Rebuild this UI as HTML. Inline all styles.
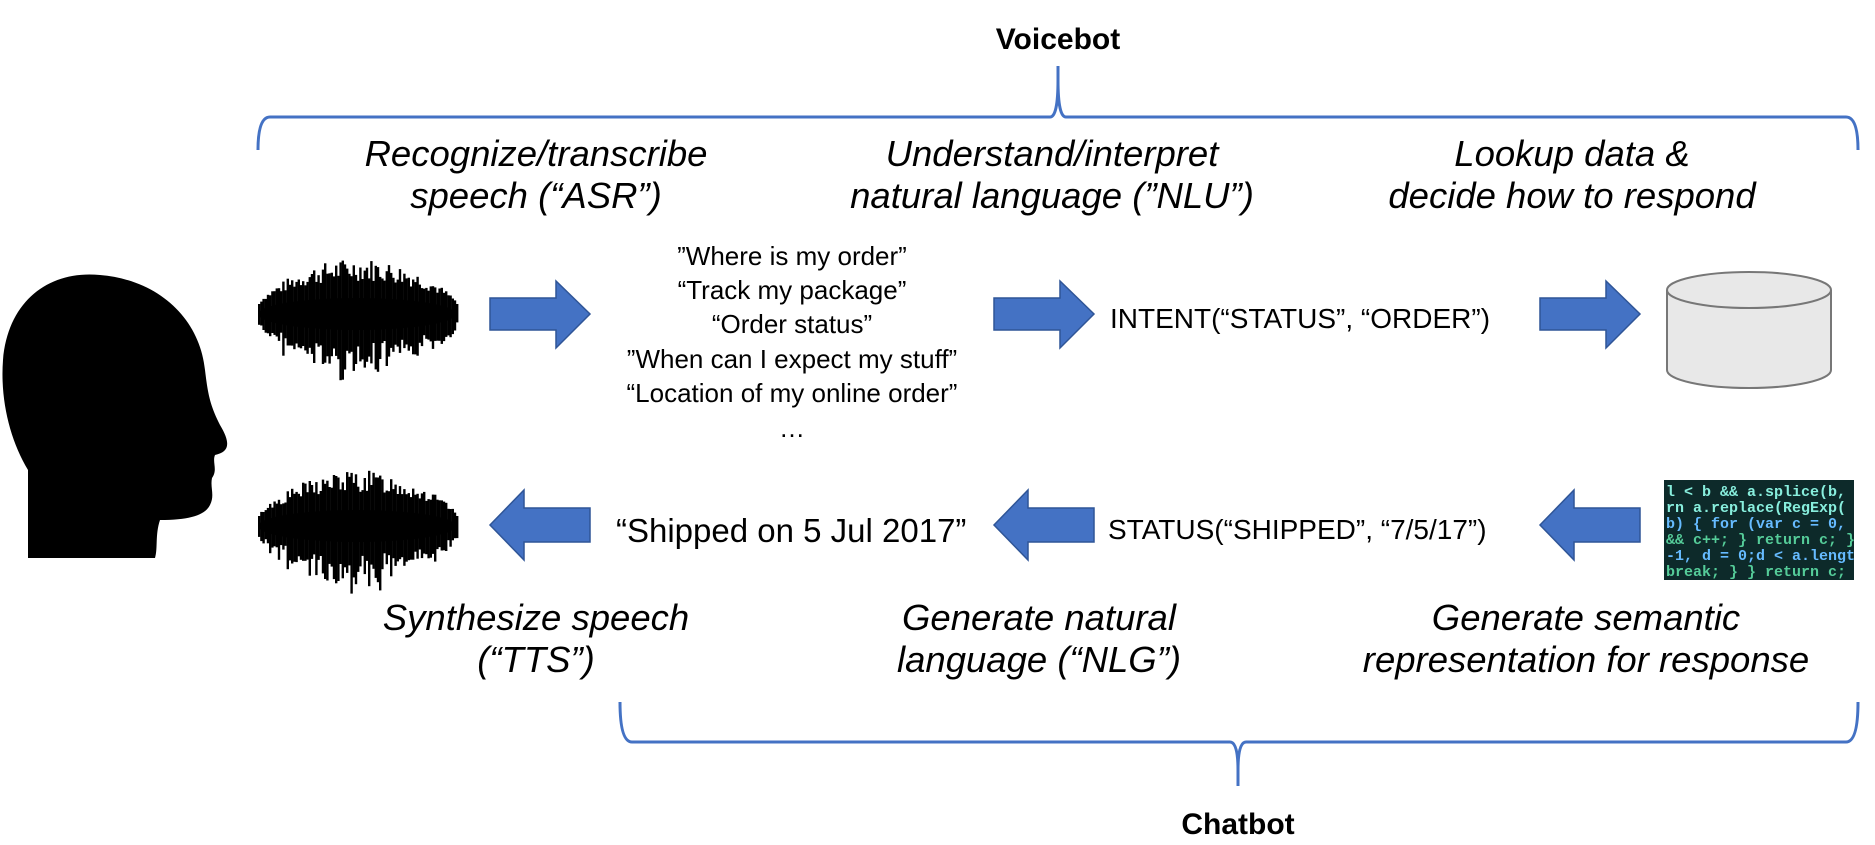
<!DOCTYPE html>
<html><head><meta charset="utf-8"><style>
html,body{margin:0;padding:0;background:#fff;}
svg{display:block;}
text{font-family:"Liberation Sans",sans-serif;fill:#000;}
.h{font-style:italic;font-size:36.5px;}
.q{font-size:26px;}
.m{font-size:28px;}
.c{font-family:"Liberation Mono",monospace;font-size:15px;font-weight:bold;}
</style></head><body>
<svg id="s" width="1875" height="845" viewBox="0 0 1875 845" xmlns="http://www.w3.org/2000/svg">
<defs><clipPath id="cp"><rect x="1664" y="480" width="190" height="100"/></clipPath></defs>
<g fill="none" stroke="#4472c4" stroke-width="3">
<path d="M258 150 Q258 117 270 117 L1050 117 Q1058 117 1058 80 L1058 66 M1058 80 Q1058 117 1066 117 L1846 117 Q1858 117 1858 150"/>
<path d="M620 702 Q620 742 632 742 L1230 742 Q1238 742 1238 770 L1238 786 M1238 770 Q1238 742 1246 742 L1846 742 Q1858 742 1858 702"/>
</g>
<text x="1058" y="49" font-size="30" font-weight="bold" text-anchor="middle">Voicebot</text>
<text x="1238" y="834" font-size="30" font-weight="bold" text-anchor="middle">Chatbot</text>
<g text-anchor="middle">
<text class="h" x="536" y="166">Recognize/transcribe</text>
<text class="h" x="536" y="208">speech (“ASR”)</text>
<text class="h" x="1052" y="166">Understand/interpret</text>
<text class="h" x="1052" y="208">natural language (”NLU”)</text>
<text class="h" x="1572" y="166">Lookup data &amp;</text>
<text class="h" x="1572" y="208">decide how to respond</text>
<text class="h" x="536" y="630">Synthesize speech</text>
<text class="h" x="536" y="672">(“TTS”)</text>
<text class="h" x="1039" y="630">Generate natural</text>
<text class="h" x="1039" y="672">language (“NLG”)</text>
<text class="h" x="1586" y="630">Generate semantic</text>
<text class="h" x="1586" y="672">representation for response</text>
</g>
<g text-anchor="middle">
<text class="q" x="792" y="265">”Where is my order”</text>
<text class="q" x="792" y="299">“Track my package”</text>
<text class="q" x="792" y="333">“Order status”</text>
<text class="q" x="792" y="368">”When can I expect my stuff”</text>
<text class="q" x="792" y="402">“Location of my online order”</text>
<text class="q" x="792" y="437">…</text>
</g>
<text class="m" x="1110" y="328">INTENT(“STATUS”, “ORDER”)</text>
<text class="m" x="1108" y="539">STATUS(“SHIPPED”, “7/5/17”)</text>
<text x="616" y="542" font-size="33">“Shipped on 5 Jul 2017”</text>
<g fill="#4472c4" stroke="#2f5597" stroke-width="1.5">
<path d="M490 298 L556 298 L556 281 L590 314 L556 348 L556 330 L490 330Z"/>
<path d="M994 298 L1060 298 L1060 281 L1094 314 L1060 348 L1060 330 L994 330Z"/>
<path d="M1540 298 L1606 298 L1606 281 L1640 314 L1606 348 L1606 330 L1540 330Z"/>
<path d="M590 508 L524 508 L524 490 L490 525 L524 560 L524 542 L590 542Z"/>
<path d="M1094 508 L1028 508 L1028 490 L994 525 L1028 560 L1028 542 L1094 542Z"/>
<path d="M1640 508 L1574 508 L1574 490 L1540 525 L1574 560 L1574 542 L1640 542Z"/>
</g>
<g stroke="#777" stroke-width="2" fill="#e8e8e8">
<path d="M1667 290 L1667 370 A82 18 0 0 0 1831 370 L1831 290"/>
<ellipse cx="1749" cy="290" rx="82" ry="18"/>
</g>
<rect x="1664" y="480" width="190" height="100" fill="#0d2a2a"/>
<g clip-path="url(#cp)">
<text class="c" x="1666" y="496" style="fill:#8ed">l &lt; b &amp;&amp; a.splice(b, 1);</text>
<text class="c" x="1666" y="512" style="fill:#8ed">rn a.replace(RegExp(</text>
<text class="c" x="1666" y="528" style="fill:#6bf">b) { for (var c = 0, d</text>
<text class="c" x="1666" y="544" style="fill:#5c9">&amp;&amp; c++; } return c; }</text>
<text class="c" x="1666" y="560" style="fill:#6bf">-1, d = 0;d &lt; a.length;</text>
<text class="c" x="1666" y="576" style="fill:#5c9">break; } } return c; }</text>
</g>
<path d="M28 558 L28 470 C10 440 0 400 3 360 C8 300 50 270 100 275 C160 280 200 320 205 370 C208 395 210 405 220 425 C232 445 228 452 215 455 C212 462 218 470 212 478 C210 488 215 495 210 505 C205 515 190 520 160 520 C155 535 158 548 155 558Z" fill="#000"/>
<g id="w1" fill="#000"></g>
<g id="w2" fill="#000"></g>
</svg>
<script>
function wave(id,cy){var g=document.getElementById(id),s='',seed=id==='w1'?7:13;
function r(){seed=(seed*9301+49297)%233280;return seed/233280;}
for(var x=258;x<456;x+=2.2){var t=(x-258)/198;var env=Math.pow(Math.sin(Math.PI*t),0.7);var h=(10+46*env*(0.5+0.5*r()));var h2=h*(0.8+0.5*r());
s+='<rect x="'+x.toFixed(1)+'" y="'+(cy-h).toFixed(1)+'" width="2.4" height="'+(h+h2).toFixed(1)+'"/>';}
s+='<ellipse cx="357" cy="'+cy+'" rx="99" ry="16"/>';g.innerHTML=s;}
wave('w1',314);wave('w2',526);
</script>
</body></html>
